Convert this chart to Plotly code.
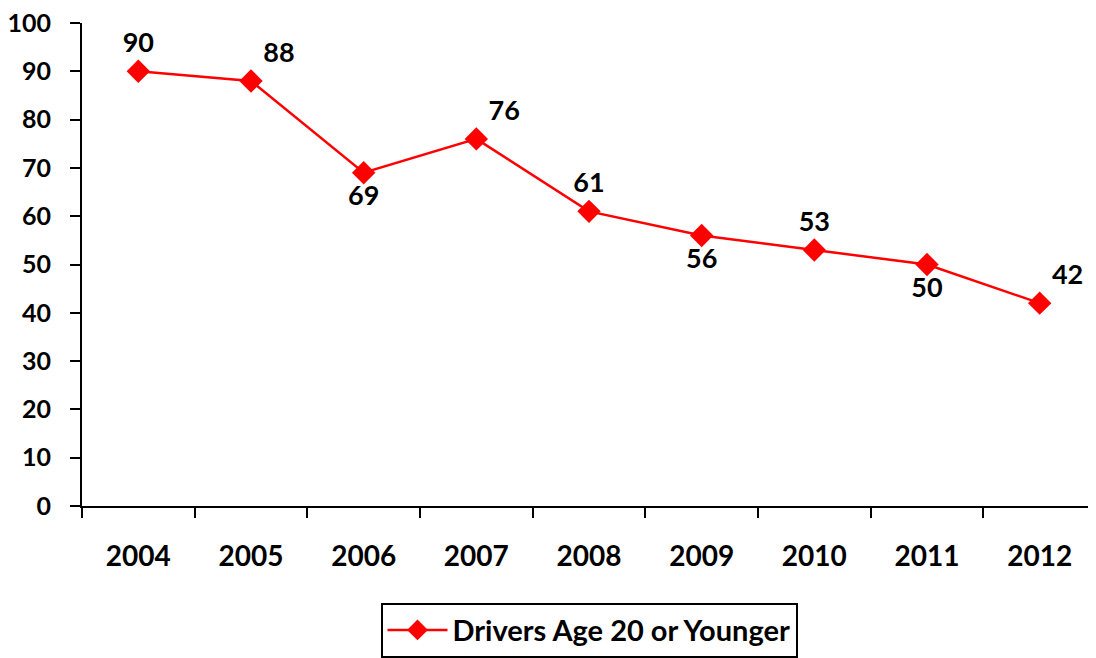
import plotly.graph_objects as go

years = ["2004", "2005", "2006", "2007", "2008", "2009", "2010", "2011", "2012"]
drivers_20_or_younger = [90, 88, 69, 76, 61, 56, 53, 50, 42]
label_positions = [
    "top center", "top right", "bottom center", "top right", "top center",
    "bottom center", "top center", "bottom center", "top right",
]

RED = "#FF0000"
FONT = dict(family="Lato, 'Liberation Sans', sans-serif", color="black", weight="bold")

fig = go.Figure()
fig.add_trace(
    go.Scatter(
        x=years,
        y=drivers_20_or_younger,
        name="Drivers Age 20 or Younger",
        mode="lines+markers+text",
        line=dict(color=RED, width=2.5),
        marker=dict(symbol="diamond", size=18, color=RED),
        text=[str(v) for v in drivers_20_or_younger],
        textposition=label_positions,
        textfont=dict(FONT, size=27),
    )
)

# the page body adds an 8px margin, so the figure is a bit smaller than the window
fig.update_layout(
    width=1088,
    height=650,
    margin=dict(l=74, r=0, t=15, b=143),
    plot_bgcolor="white",
    paper_bgcolor="white",
    font=dict(FONT, size=25),
    showlegend=True,
    legend=dict(
        orientation="h",
        x=0.5,
        xanchor="center",
        y=-0.2,
        yanchor="top",
        bordercolor="black",
        borderwidth=2,
        font=dict(FONT, size=29),
        itemwidth=60,
    ),
)
fig.update_xaxes(
    type="category",
    range=[-0.5, 8.5],
    showgrid=False,
    showline=True,
    linecolor="black",
    linewidth=2,
    ticks="outside",
    tickson="boundaries",
    ticklen=10,
    tickwidth=2,
    tickcolor="black",
    ticklabelstandoff=24,
    tickfont=dict(FONT, size=28),
)
fig.update_yaxes(
    range=[0, 100],
    dtick=10,
    showgrid=False,
    zeroline=False,
    showline=True,
    linecolor="black",
    linewidth=2,
    ticks="outside",
    ticklen=10,
    tickwidth=2,
    tickcolor="black",
    ticklabelstandoff=14,
    ticklabeloverflow="allow",
    tickfont=dict(FONT, size=25),
)

fig.write_html("out.html")
